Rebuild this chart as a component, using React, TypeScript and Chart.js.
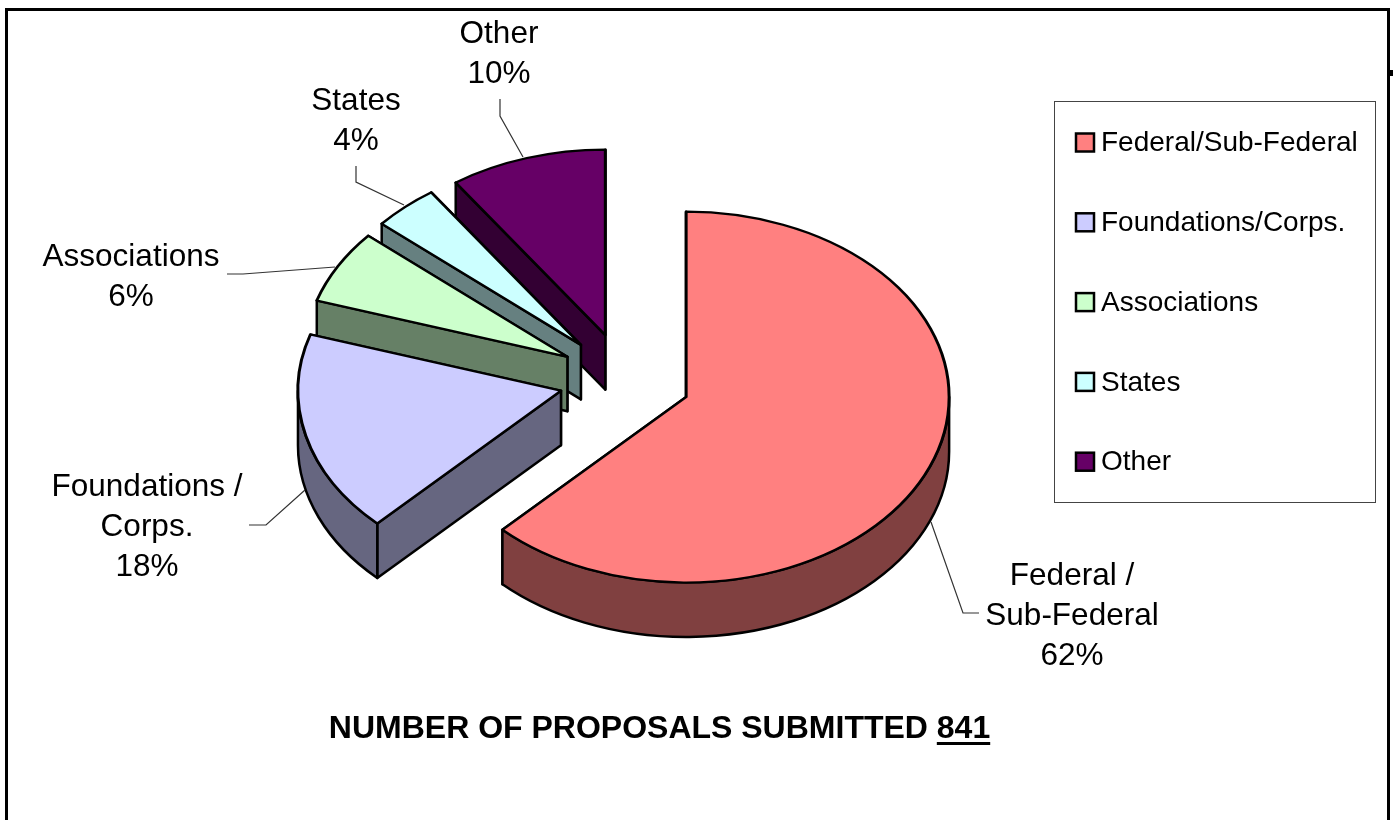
import React, { useEffect, useRef } from "react";
import { Chart, registerables } from "chart.js";

Chart.register(...registerables);

// ---- data ----
const legendLabels = ["Federal/Sub-Federal", "Foundations/Corps.", "Associations", "States", "Other"];
const proposalCounts = [524, 148, 54, 34, 81];
const sharePercent = [62, 18, 6, 4, 10];
const calloutNames = [["Federal /", "Sub-Federal"], ["Foundations /", "Corps."], ["Associations"], ["States"], ["Other"]];
const titleText = "NUMBER OF PROPOSALS SUBMITTED ";
const totalProposals = "841";

// ---- styles ----
const topColors = ["#FF8080", "#CCCCFF", "#CCFFCC", "#CCFFFF", "#660066"];
const sideColors = ["#804040", "#666680", "#668066", "#668080", "#330033"];
const FONT = '"Liberation Sans", Arial, sans-serif';
const W = 1393, H = 820;
const CX = 625, CY = 379.5, BORDER = 3, RADIUS = 263;
const EXPLODE = 66, TILT = 0.705, DEPTH = 54.5;

// ---- layout of callouts (screen pixels) ----
const calloutLayout = [
  { x: 1072, y: 576, leader: [[931, 522], [963, 613], [979, 613]] },
  { x: 147, y: 487, leader: [[305, 490], [266, 525], [249, 525]] },
  { x: 131, y: 257, leader: [[335, 267], [243, 274], [227, 274]] },
  { x: 356, y: 101, leader: [[404, 205], [356, 182], [356, 166]] },
  { x: 499, y: 34, leader: [[523, 157], [500, 116], [500, 99]] },
];
const CALLOUT_LINE = 40.3;
const LEGEND = { left: 1054.5, top: 101.5, right: 1375.5, bottom: 502.5, textX: 1101, swatchX: 1076, swatchSize: 18, firstRow: 142.5, textShift: 1, rowStep: 79.8, font: 28 };

const screenY = (y: number) => CY + (y - CY) * TILT;

const pie3d = {
  id: "pie3d",
  afterDatasetsUpdate(chart: any) {
    for (const el of chart.getDatasetMeta(0).data) {
      const mid = (el.startAngle + el.endAngle) / 2;
      el.x += Math.cos(mid) * EXPLODE;
      el.y += Math.sin(mid) * EXPLODE;
    }
  },
  afterLayout(chart: any) {
    const lg = chart.legend;
    const pad = LEGEND.rowStep - LEGEND.font;
    lg.left = LEGEND.textX - LEGEND.font / 2 - pad;
    lg.right = W;
    lg.top = LEGEND.firstRow + LEGEND.textShift - LEGEND.font / 2 - pad;
    lg.bottom = H;
  },
  beforeDraw(chart: any) {
    const ctx = chart.ctx;
    ctx.save();
    ctx.strokeStyle = "#000";
    ctx.lineWidth = 3;
    ctx.beginPath();
    ctx.moveTo(6.5, H + 5);
    ctx.lineTo(6.5, 9.5);
    ctx.lineTo(1388.5, 9.5);
    ctx.lineTo(1388.5, H + 5);
    ctx.stroke();
    ctx.fillStyle = "#000";
    ctx.fillRect(1389, 70, 4, 6);
    ctx.lineWidth = 1;
    ctx.strokeStyle = "#444";
    ctx.strokeRect(LEGEND.left, LEGEND.top, LEGEND.right - LEGEND.left, LEGEND.bottom - LEGEND.top);
    ctx.restore();
  },
  beforeDatasetDraw(chart: any) {
    const ctx = chart.ctx;
    const els = chart.getDatasetMeta(0).data;
    ctx.save();
    ctx.lineWidth = BORDER - 0.5;
    ctx.lineJoin = "round";
    ctx.strokeStyle = "#000";
    for (let i = els.length - 1; i >= 0; i--) {
      const el = els[i];
      const r = el.outerRadius;
      const ax = el.x, ay = screenY(el.y);
      ctx.fillStyle = sideColors[i];
      for (const a of [el.endAngle, el.startAngle]) {
        const px = ax + Math.cos(a) * r, py = ay + Math.sin(a) * r * TILT;
        ctx.beginPath();
        ctx.moveTo(ax, ay);
        ctx.lineTo(px, py);
        ctx.lineTo(px, py + DEPTH);
        ctx.lineTo(ax, ay + DEPTH);
        ctx.closePath();
        ctx.fill();
        ctx.stroke();
      }
      const a0 = Math.max(el.startAngle, 0), a1 = Math.min(el.endAngle, Math.PI);
      if (a1 > a0) {
        ctx.beginPath();
        ctx.ellipse(ax, ay, r, r * TILT, 0, a0, a1);
        ctx.ellipse(ax, ay + DEPTH, r, r * TILT, 0, a1, a0, true);
        ctx.closePath();
        ctx.fill();
        ctx.stroke();
      }
    }
    ctx.restore();
    ctx.save();
    ctx.transform(1, 0, 0, TILT, 0, CY * (1 - TILT));
  },
  afterDatasetDraw(chart: any) {
    chart.ctx.restore();
  },
  afterDraw(chart: any) {
    const ctx = chart.ctx;
    ctx.save();
    // legend swatches
    chart.legend.legendItems.forEach((item: any, i: number) => {
      const s = LEGEND.swatchSize;
      const cy = LEGEND.firstRow + i * LEGEND.rowStep;
      ctx.fillStyle = item.fillStyle;
      ctx.strokeStyle = "#000";
      ctx.lineWidth = 2.5;
      ctx.fillRect(LEGEND.swatchX, cy - s / 2, s, s);
      ctx.strokeRect(LEGEND.swatchX, cy - s / 2, s, s);
    });
    // callouts
    ctx.fillStyle = "#000";
    ctx.font = `31.5px ${FONT}`;
    ctx.textAlign = "center";
    ctx.textBaseline = "middle";
    calloutNames.forEach((name, i) => {
      const lay = calloutLayout[i];
      [...name, `${sharePercent[i]}%`].forEach((line, j) => {
        ctx.fillText(line, lay.x, lay.y + j * CALLOUT_LINE);
      });
      ctx.beginPath();
      lay.leader.forEach(([x, y], j) => (j ? ctx.lineTo(x, y) : ctx.moveTo(x, y)));
      ctx.strokeStyle = "#333";
      ctx.lineWidth = 1.2;
      ctx.stroke();
    });
    // title
    ctx.font = `bold 32px ${FONT}`;
    ctx.textAlign = "left";
    const full = titleText + totalProposals;
    const tw = ctx.measureText(full).width;
    const x0 = 659.5 - tw / 2;
    ctx.fillText(full, x0, 729);
    const head = ctx.measureText(titleText).width;
    ctx.fillRect(x0 + head, 742, tw - head, 3);
    ctx.restore();
  },
};

export default function App() {
  const ref = useRef<HTMLCanvasElement>(null);
  useEffect(() => {
    document.body.style.margin = "0";
    const half = RADIUS + BORDER / 2;
    const chart = new Chart(ref.current!, {
      type: "pie",
      data: {
        labels: legendLabels,
        datasets: [
          {
            data: proposalCounts,
            backgroundColor: topColors,
            borderColor: "#000",
            borderWidth: BORDER,
            borderJoinStyle: "round",
            clip: false,
          } as any,
        ],
      },
      options: {
        responsive: false,
        animation: false,
        events: [],
        layout: {
          padding: { left: CX - half, right: W - CX - half, top: CY - half, bottom: H - CY - half },
        },
        plugins: {
          tooltip: { enabled: false },
          title: { display: false },
          legend: {
            display: true,
            position: "chartArea",
            align: "start",
            labels: {
              color: "#000",
              boxWidth: 0,
              boxHeight: 0,
              padding: LEGEND.rowStep - LEGEND.font,
              font: { family: FONT, size: LEGEND.font },
            },
          },
        },
      } as any,
      plugins: [pie3d as any],
    });
    return () => chart.destroy();
  }, []);
  return (
    <div style={{ width: W, height: H, overflow: "hidden" }}>
      <canvas ref={ref} width={W} height={H} style={{ display: "block" }} />
    </div>
  );
}
